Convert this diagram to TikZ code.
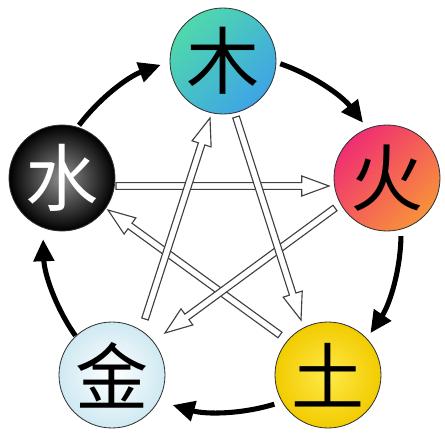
\documentclass[tikz,border=0pt]{standalone}
\usepackage{fontspec}
\newfontfamily\cjk{Noto Sans CJK SC}
\usetikzlibrary{calc,arrows.meta}

\definecolor{mugreen}{HTML}{4FD9AC}
\definecolor{mulight}{HTML}{A6EEDA}
\definecolor{mublue}{HTML}{3EA4E6}
\definecolor{huopink}{HTML}{F02E72}
\definecolor{huoorange}{HTML}{F8923A}
\definecolor{tuinner}{HTML}{FFE84A}
\definecolor{tuouter}{HTML}{F2CC00}
\definecolor{jinouter}{HTML}{CFE9F2}
\definecolor{shuiinner}{HTML}{909090}

\newcommand{\hollowarrow}[2]{%
  \coordinate (hh) at ($(#2)!0.68cm!(#1)$);
  \filldraw[hollow] ($(#1)!0.085cm!90:(#2)$) -- ($(hh)!0.085cm!90:(#2)$) -- ($(hh)!0.25cm!90:(#2)$) -- (#2) -- ($(hh)!0.25cm!-90:(#2)$) -- ($(hh)!0.085cm!-90:(#2)$) -- ($(#1)!0.085cm!-90:(#2)$) -- cycle;
}

\begin{document}
\begin{tikzpicture}[
  element/.style={circle, draw=black!80, line width=0.6pt, minimum size=2.65cm, inner sep=0pt, font=\cjk\fontsize{52}{52}\selectfont},
  hollow/.style={fill=white, draw=black!75, line width=0.8pt},
  cyclearrow/.style={line width=3.6pt, -{Triangle[length=0.55cm,width=0.5cm]}}
]
\useasboundingbox (-5.55,-5.375) rectangle (5.55,5.825);

\node[element, top color=mugreen, middle color=mulight, bottom color=mublue, shading angle=45] (mu) at (0.025,4.300) {木};
\node[element, top color=huopink, bottom color=huoorange, shading angle=45] (huo) at (4.125,1.375) {火};
\node[element, inner color=tuinner, outer color=tuouter] (tu) at (2.650,-3.550) {土};
\node[element, inner color=white, outer color=jinouter] (jin) at (-2.750,-3.550) {金};
\node[element, inner color=shuiinner, outer color=black, text=white] (shui) at (-4.000,1.375) {水};

\draw[cyclearrow] (71:4.475) arc[start angle=71, end angle=38, radius=4.475];
\draw[cyclearrow] (-1:4.475) arc[start angle=-1, end angle=-34, radius=4.475];
\draw[cyclearrow] (-73:4.475) arc[start angle=-73, end angle=-106, radius=4.475];
\draw[cyclearrow] (-145:4.475) arc[start angle=-145, end angle=-178, radius=4.475];
\draw[cyclearrow] (143:4.475) arc[start angle=143, end angle=110, radius=4.475];

\coordinate (shuiA) at (-2.650,1.175);
\coordinate (huoB) at (2.675,1.175);
\coordinate (huoA) at (2.825,0.625);
\coordinate (jinB) at (-1.425,-2.500);
\coordinate (jinA) at (-1.925,-2.150);
\coordinate (muB) at (-0.300,2.875);
\coordinate (muA) at (0.350,2.900);
\coordinate (tuB) at (1.975,-2.175);
\coordinate (tuA) at (1.450,-2.550);
\coordinate (shuiB) at (-2.850,0.575);

\hollowarrow{shuiA}{huoB}
\hollowarrow{tuA}{shuiB}
\hollowarrow{huoA}{jinB}
\hollowarrow{jinA}{muB}
\hollowarrow{muA}{tuB}
\end{tikzpicture}
\end{document}
